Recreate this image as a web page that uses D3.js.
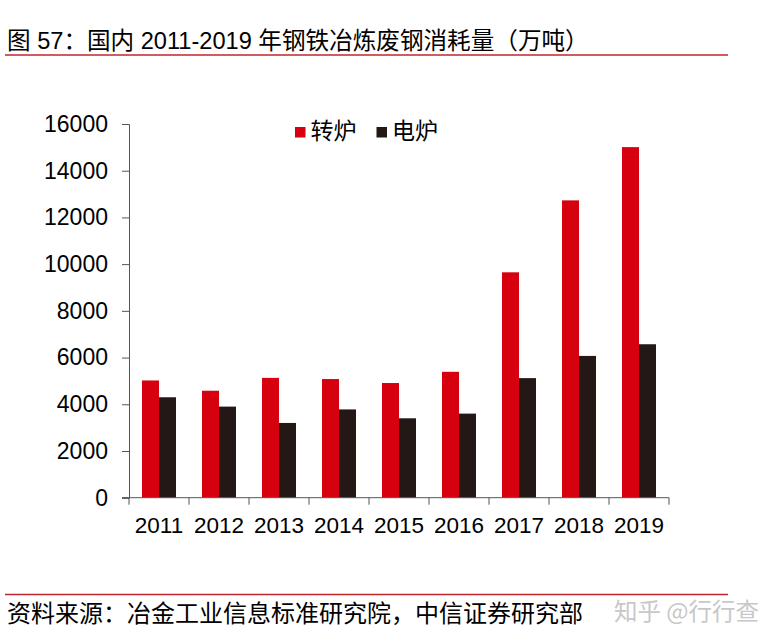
<!DOCTYPE html>
<html>
<head>
<meta charset="utf-8">
<script src="https://cdn.jsdelivr.net/npm/d3@7"></script>
<style>
  body { margin: 0; background: #fff; }
  text { font-family: "Liberation Sans", "Noto Sans CJK SC", sans-serif; }
</style>
</head>
<body>
<div id="chart"></div>
<script>
// data (万吨)
const years = ["2011","2012","2013","2014","2015","2016","2017","2018","2019"];
const bof = [5020, 4580, 5130, 5080, 4910, 5390, 9650, 12730, 15010];
const eaf = [4300, 3900, 3200, 3780, 3400, 3600, 5120, 6070, 6570];
const seriesNames = ["转炉", "电炉"];
const yTicks = [0, 2000, 4000, 6000, 8000, 10000, 12000, 14000, 16000];

const red = "#d7000f", dark = "#231815";

let svg = d3.select("#chart")
  .append("svg")
  .attr("width", 775)
  .attr("height", 643);

// title + red rule
svg.append("text")
  .attr("x", 7)
  .attr("y", 49)
  .attr("font-size", "23.6px")
  .attr("fill", "#000")
  .style("font-family", "'Liberation Sans','Noto Sans CJK SC',sans-serif")
  .text("图 57：国内 2011-2019 年钢铁冶炼废钢消耗量（万吨）");
svg.append("line")
  .attr("x1", 5).attr("x2", 728)
  .attr("y1", 55).attr("y2", 55)
  .style("stroke", "#c0252d")
  .style("stroke-width", 1.5);

const x = d3.scaleBand().domain(years).range([129, 669]);
const y = d3.scaleLinear().domain([0, 16000]).range([497.7, 124]);

// bars
let g = svg.append("g");
const barW = 17;
g.selectAll("rect.bof")
  .data(years)
  .enter().append("rect")
  .attr("class", "bof")
  .attr("x", (d) => x(d) + x.bandwidth() / 2 - barW)
  .attr("y", (d, i) => y(bof[i]))
  .attr("width", barW)
  .attr("height", (d, i) => y(0) - y(bof[i]))
  .attr("fill", red);
g.selectAll("rect.eaf")
  .data(years)
  .enter().append("rect")
  .attr("class", "eaf")
  .attr("x", (d) => x(d) + x.bandwidth() / 2)
  .attr("y", (d, i) => y(eaf[i]))
  .attr("width", barW)
  .attr("height", (d, i) => y(0) - y(eaf[i]))
  .attr("fill", dark);

// y axis
let yAxis = svg.append("g")
  .attr("transform", "translate(129,0)")
  .call(d3.axisLeft(y).tickValues(yTicks).tickSize(7).tickPadding(14).tickFormat(d3.format("d")));
yAxis.select(".domain").attr("stroke", "#555");
yAxis.selectAll(".tick line").attr("stroke", "#555");
yAxis.selectAll(".tick text")
  .attr("font-size", "23px")
  .attr("fill", "#000")
  .style("font-family", "'Liberation Sans',sans-serif");

// x axis: ticks at band edges
let xAxis = svg.append("g")
  .attr("transform", "translate(0," + y(0) + ")");
xAxis.append("line")
  .attr("x1", 122).attr("x2", 669)
  .attr("stroke", "#555");
xAxis.selectAll("line.tk")
  .data(years.concat(["end"]))
  .enter().append("line")
  .attr("class", "tk")
  .attr("x1", (d, i) => 129 + i * x.bandwidth())
  .attr("x2", (d, i) => 129 + i * x.bandwidth())
  .attr("y1", 0).attr("y2", 7)
  .attr("stroke", "#555");
xAxis.selectAll("text")
  .data(years)
  .enter().append("text")
  .attr("x", (d) => x(d) + x.bandwidth() / 2)
  .attr("y", 35)
  .attr("text-anchor", "middle")
  .attr("font-size", "22.5px")
  .attr("fill", "#000")
  .style("font-family", "'Liberation Sans',sans-serif")
  .text((d) => d);

// legend
const legendX = [295, 376.5];
seriesNames.forEach((name, i) => {
  svg.append("rect")
    .attr("x", legendX[i]).attr("y", 127)
    .attr("width", 10.5).attr("height", 10.5)
    .attr("fill", i === 0 ? red : dark);
  svg.append("text")
    .attr("x", legendX[i] + 15.5).attr("y", 139)
    .attr("font-size", "23px")
    .attr("fill", "#000")
    .style("font-family", "'Noto Sans CJK SC',sans-serif")
    .text(name);
});

// footer
svg.append("line")
  .attr("x1", 5).attr("x2", 728)
  .attr("y1", 594.5).attr("y2", 594.5)
  .style("stroke", "#c0252d")
  .style("stroke-width", 1.5);
svg.append("text")
  .attr("x", 7)
  .attr("y", 622)
  .attr("font-size", "24px")
  .attr("fill", "#000")
  .style("font-family", "'Noto Sans CJK SC',sans-serif")
  .text("资料来源：冶金工业信息标准研究院，中信证券研究部");
svg.append("text")
  .attr("x", 614)
  .attr("y", 620)
  .attr("font-size", "23.5px")
  .attr("fill", "#c8c8c8")
  .style("font-family", "'Noto Sans CJK SC',sans-serif")
  .text("知乎 @行行查");
</script>
</body>
</html>
